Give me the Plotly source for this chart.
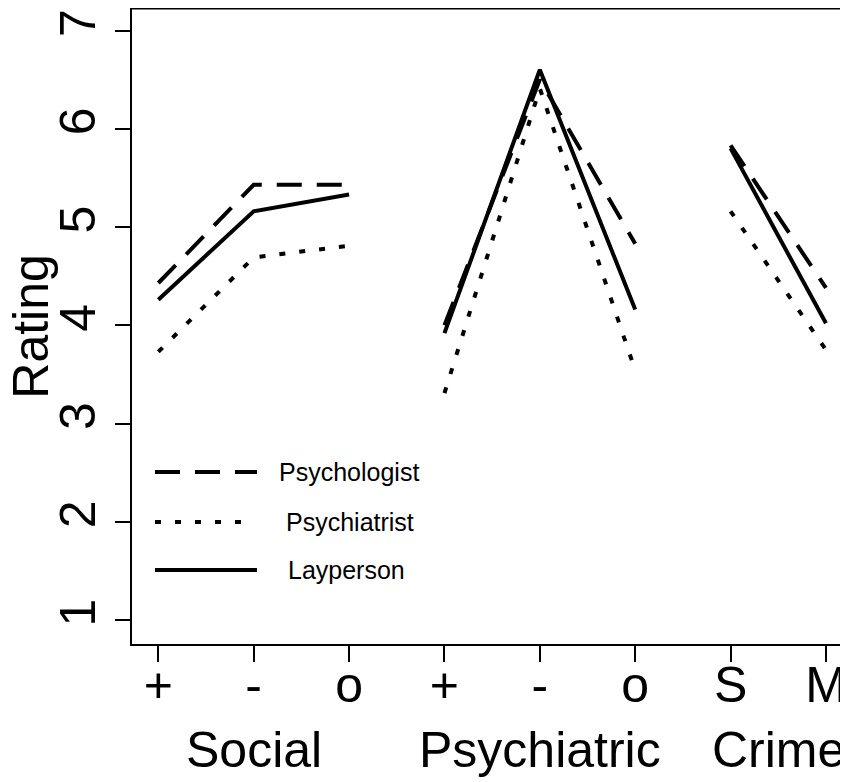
import plotly.graph_objects as go

# ---- data ----
tick_labels = ["+", "-", "o", "+", "-", "o", "S", "M"]
groups = ["Social", "Psychiatric", "Crime"]
group_sizes = [3, 3, 2]
series_names = ["Psychologist", "Psychiatrist", "Layperson"]
psychologist = [4.43, 5.43, 5.43, 4.00, 6.50, 4.83, 5.83, 4.38]
psychiatrist = [3.73, 4.69, 4.81, 3.31, 6.41, 3.54, 5.16, 3.75]
layperson = [4.26, 5.16, 5.33, 3.92, 6.60, 4.16, 5.80, 4.02]
y_title = "Rating"

FONT = "Liberation Sans, Arial, sans-serif"
positions = list(range(1, len(tick_labels) + 1))


def split_groups(vals):
    xs, ys = [], []
    i = 0
    for gi, n in enumerate(group_sizes):
        if gi > 0:
            xs.append(None)
            ys.append(None)
        xs.extend(positions[i:i + n])
        ys.extend(vals[i:i + n])
        i += n
    return xs, ys


styles = {
    "Psychologist": "25px,15px",
    "Psychiatrist": "6px,14px",
    "Layperson": "solid",
}

fig = go.Figure()
for name, vals in zip(series_names, [psychologist, psychiatrist, layperson]):
    xs, ys = split_groups(vals)
    fig.add_trace(go.Scatter(
        x=xs, y=ys, mode="lines", name=name, connectgaps=False,
        line=dict(color="black", width=4, dash=styles[name]),
        showlegend=False,
    ))

# page body has an 8px margin, so the figure is sized/offset to compensate
fig.update_layout(
    width=840, height=774,
    margin=dict(l=124, r=0, t=0, b=138),
    paper_bgcolor="white", plot_bgcolor="white",
    font=dict(family=FONT, color="black"),
    xaxis=dict(
        range=[0.724, 8.231], tickmode="array", tickvals=positions,
        ticktext=tick_labels, ticks="outside", ticklen=16, tickwidth=1.5,
        tickcolor="black", showline=True, linecolor="black", linewidth=1.5,
        showgrid=False, zeroline=False, tickfont=dict(size=50),
        automargin=False, ticklabelstandoff=-20,
    ),
    yaxis=dict(
        range=[0.756, 7.229], tickmode="array", tickvals=[1, 2, 3, 4, 5, 6, 7],
        ticktext=["1", "2", "3", "4", "5", "6", "7"],
        ticks="outside", ticklen=15, tickwidth=1.5, tickcolor="black",
        showline=True, linecolor="black", linewidth=1.5, showgrid=False,
        zeroline=False, tickangle=-90, tickfont=dict(size=50),
        automargin=False,
    ),
)

# y-axis title
fig.add_annotation(x=-0.1415, y=0.5, xref="paper", yref="paper", text=y_title,
                   textangle=-90, showarrow=False,
                   font=dict(size=50, family=FONT),
                   xanchor="center", yanchor="middle")

# top border of the box
fig.add_shape(type="line", xref="paper", yref="paper", x0=0, x1=1, y0=0.999, y1=0.999,
              line=dict(color="black", width=1.5))

# group labels below the axis
group_centers = []
i = 0
for n in group_sizes:
    group_centers.append(sum(positions[i:i + n]) / n)
    i += n
for g, cx in zip(groups, group_centers):
    fig.add_annotation(x=cx, y=-0.1667, xref="x", yref="paper", text=g,
                       showarrow=False, font=dict(size=50, family=FONT),
                       xanchor="center", yanchor="middle")

# manual legend
leg_y = [0.2704, 0.1918, 0.1164]
leg_text_x = [0.303, 0.3045, 0.300]
leg_len = [0.1746, 0.154, 0.1746]
for name, ly, tx, ll in zip(series_names, leg_y, leg_text_x, leg_len):
    fig.add_shape(type="line", xref="paper", yref="paper", x0=0.0321, x1=ll,
                  y0=ly, y1=ly, line=dict(color="black", width=4, dash=styles[name]))
    fig.add_annotation(x=tx, y=ly, xref="paper", yref="paper", text=name,
                       showarrow=False, font=dict(size=25, family=FONT),
                       xanchor="center", yanchor="middle")

fig.write_html("out.html")
